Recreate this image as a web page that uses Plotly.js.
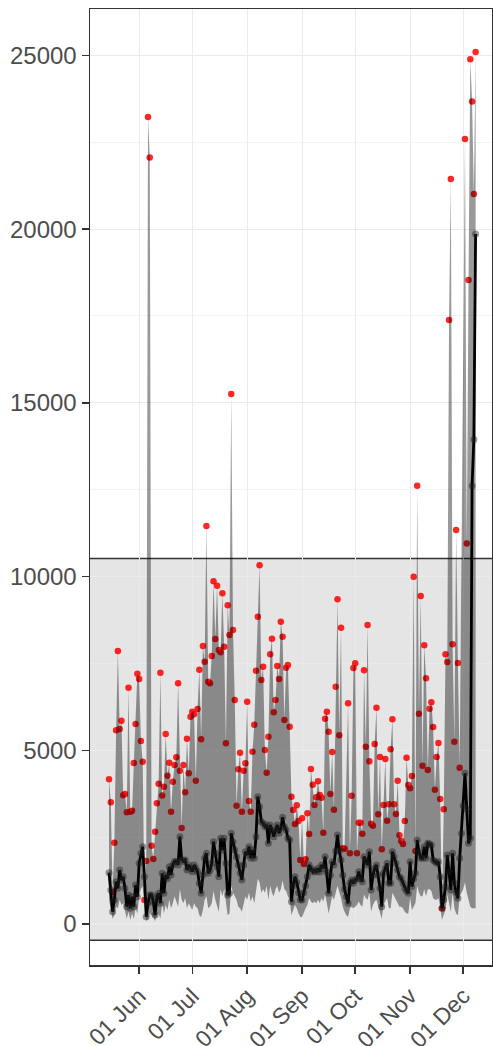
<!DOCTYPE html>
<html>
<head>
<meta charset="utf-8">
<script src="https://cdn.plot.ly/plotly-3.0.1.min.js"></script>
<style>html,body{margin:0;padding:0;background:#fff;}#chart{width:493px;height:1046px;}</style>
</head>
<body>
<div id="chart"></div>
<script>
// ---------- DATA ----------
var startDate = '2020-05-15';   // first day of the daily series
var bandRange = [-470, 10520];  // shaded reference band

// observed values (red points), one per day
var observed = [
 4165, 3503, 930, 2341, 5575, 7858, 5612, 5851, 3704, 3742, 3215, 6802, 3230, 3261, 4634, 5756, 7204,
 7052, 5267, 4672, 690, 1813, 23227, 22061, 2254, 1871, 2657, 3474, 4038, 7233, 3700, 3950, 5469,
 4268, 4643, 3232, 4096, 4576, 4797, 6927, 4413, 2763, 4576, 3790, 5334, 4337, 5967, 6111, 6035,
 4125, 6188, 7320, 5316, 8001, 7550, 11455, 6975, 6927, 7714, 9864, 8203, 9737, 7886, 7820, 9518,
 7981, 5200, 9173, 8318, 15254, 8462, 6447, 3405, 4453, 4931, 3232, 4413, 4624, 6399, 3540, 3232,
 4960, 5737, 7291, 8843, 10325, 7023, 7406, 5008, 4355, 5392, 7762, 8212, 6092, 6447, 7426, 7052,
 8700, 8269, 5872, 7377, 7454, 5679,
 3664, 3281, 2878, 3416, 2965, 1842, 3042, 1727, 1862, 3186, 2590, 4461, 4010, 3425, 3646, 4107,
 3713, 3635, 2628, 5910, 6111, 5535, 3742, 4950, 3290, 6831, 9345, 5431, 8528, 2179, 2167, null,
 6352, 2035, 3693, 7368, 7504, 2035, 2916,
 2916, 2599, 7302, 5104, 8606, 4682, 2887, 2830, 5181, 6226, 3157, 4806, 2150, 3425, 4749, 2974,
 3445, 5028, 5891, 3445, 3166, 4125, 2553, 2389, 2303, 2965, 4786, 4001, 3905, 4260, 9997, 2101,
 12615, 6053, 9440, 4557, 8021, 7072, 4432, 6197, 6381, 5670, 3866, 4806, 5209, 3598, 452, 3301,
 7762, 7541, 17384, 21443, 8050, 5247, 11340, 7512, 4499, null, null, 22593, 10949, 18535, 24888,
 23676, 21011, 25098
];

// central estimate (black line)
var estimate = [
 1477, 979, 354, 690, 1218, 1027, 1554, 1266, 1362, 1027, 498, 835, 452, 786, 498, 1122, 786,
 1747, 2035, 2225, 1362, 210, 596, 835, 835, 642, 259, 786, 884, 596, 1459, 884, 1410,
 1300, 1650, 1410, 1700, 1800, 1800, 1700, 2514, 1850, 1800, 1840, 1554, 1700, 1600, 1506, 1698,
 1602, 1506, 1170, 883, 1400, 1900, 2034, 1458, 1550, 1746, 2370, 2034, 1650, 1362, 2466, 2130,
 2466, 1746, 835, 884, 2610, 2370, 2130, 1938, 1698, 1458, 1266, 1698, 2082, 1986, 2226, 1890,
 2130, 1890, 2514, 3665, 3377, 2945, 2897, 2801, 2849, 2322, 2849, 2705, 2514, 2705, 2849, 2610,
 2753, 3070, 2801, 2705, 2466, 2418,
 643, 1100, 1362, 1200, 900, 700, 690, 900, 1100, 1362, 1698, 1600, 1500, 1550, 1506, 1602,
 1500, 1700, 1600, 1938, 1500, 883, 1400, 1794, 1700, 2100, 2561, 2100, 1842, 1400, 1000, 787,
 595, 1170, 1266, 1170, 1266, 1300, 1506,
 1300, 1218, 1938, 1800, 1698, 2082, 979, 1400, 1602, 1698, 1400, 1027, 499, 1458, 1600, 1746,
 1170, 1170, 2082, 1938, 1750, 1554, 1362, 1300, 1170, 1027, 950, 883, 1794, 1075, 1300, 1458,
 2418, 2082, 1900, 1890, 2226, 1890, 2322, 2300, 2274, 1842, 1800, 1746, 1794, 1362, 451, 700,
 1075, 1986, 1500, 979, 2034, 1170, 900, 739, 1890, 2610, 3400, 4337, 3300, 2322, 2466,
 12615, 13942, 19860
];

// lower edge of the grey band
var lower = [
 700, 400, 150, 250, 500, 450, 700, 550, 600, 400, 150, 350, 120, 300, 150, 450, 300,
 800, 1000, 1100, 500, 80, 150, 300, 250, 200, 80, 250, 300, 150, 600, 300, 550,
 400, 700, 450, 600, 800, 650, 500, 1000, 700, 600, 750, 450, 600, 500, 400, 600,
 500, 450, 250, 200, 400, 700, 800, 450, 500, 600, 950, 700, 500, 350, 1000, 800,
 1000, 600, 250, 300, 1100, 900, 800, 700, 500, 450, 350, 600, 800, 700, 900, 650,
 800, 600, 1000, 1300, 1200, 900, 1000, 900, 1100, 700, 1100, 900, 800, 1000, 1100, 900,
 1000, 1250, 1000, 950, 800, 700,
 250, 400, 550, 450, 300, 200, 200, 300, 450, 550, 750, 650, 600, 650, 600, 700,
 600, 750, 650, 850, 600, 300, 550, 800, 700, 900, 1100, 900, 750, 500, 350, 250,
 200, 450, 500, 450, 500, 550, 650,
 550, 500, 850, 750, 700, 900, 350, 550, 650, 700, 550, 350, 150, 550, 650, 750,
 450, 450, 900, 800, 700, 600, 500, 500, 450, 350, 300, 300, 750, 400, 500, 600,
 1100, 900, 800, 800, 1000, 800, 1000, 1000, 950, 750, 700, 700, 750, 500, 120, 250,
 400, 850, 600, 350, 900, 450, 300, 250, 800, 900, 1000, 1200, 900, 700, 500,
 450, 450, 450
];

var monthTicks = ['2020-06-01','2020-07-01','2020-08-01','2020-09-01','2020-10-01','2020-11-01','2020-12-01'];
var monthLabels = ['01 Jun','01 Jul','01 Aug','01 Sep','01 Oct','01 Nov','01 Dec'];
var valueTicks = [0, 5000, 10000, 15000, 20000, 25000];
var valueLabels = ['0', '5000', '10000', '15000', '20000', '25000'];

// ---------- BUILD ----------
function dayString(offset) {
  var p = startDate.split('-');
  var d = new Date(Date.UTC(+p[0], +p[1] - 1, +p[2] + offset));
  return d.toISOString().slice(0, 10);
}
var dates = observed.map(function (_, i) { return dayString(i); });

// ribbon polygon: upper edge follows observed values, lower edge returns
var polyX = [], polyY = [];
for (var i = 0; i < dates.length; i++) {
  if (observed[i] !== null) { polyX.push(dates[i]); polyY.push(observed[i]); }
}
for (var j = dates.length - 1; j >= 0; j--) { polyX.push(dates[j]); polyY.push(lower[j]); }

var traces = [
  { type: 'scatter', mode: 'markers', x: dates, y: observed,
    marker: { color: 'rgba(255,0,0,0.85)', size: 6.5, line: { width: 0 } },
    hoverinfo: 'skip', showlegend: false },
  { type: 'scatter', mode: 'lines', x: polyX, y: polyY, fill: 'toself',
    fillcolor: 'rgba(0,0,0,0.40)', line: { width: 0, color: 'rgba(0,0,0,0)' },
    hoverinfo: 'skip', showlegend: false },
  { type: 'scatter', mode: 'lines+markers', x: dates, y: estimate,
    line: { color: '#000000', width: 2.8 },
    marker: { color: 'rgba(30,30,30,0.45)', size: 7, line: { width: 0 } },
    hoverinfo: 'skip', showlegend: false }
];

var xFont = { family: 'Liberation Sans, Arial, sans-serif', size: 23, color: '#4d4d4d' };
var yFont = { family: 'Liberation Sans, Arial, sans-serif', size: 24, color: '#4d4d4d' };

var layout = {
  width: 493, height: 1046,
  margin: { l: 90, r: 1, t: 9, b: 81 },
  paper_bgcolor: '#ffffff', plot_bgcolor: '#ffffff',
  showlegend: false,
  xaxis: {
    type: 'date', range: ['2020-05-04 06:00', '2020-12-17 06:00'],
    tickmode: 'array', tickvals: monthTicks, ticktext: monthLabels,
    tickangle: -45, tickfont: xFont,
    ticks: 'outside', ticklen: 7, tickwidth: 1.5, tickcolor: '#333333',
    showgrid: true, gridcolor: '#ebebeb', gridwidth: 1.1,
    zeroline: false, showline: true, mirror: true, linecolor: '#333333', linewidth: 1.5
  },
  yaxis: {
    range: [-1180, 26335],
    tickmode: 'array', tickvals: valueTicks, ticktext: valueLabels,
    tickfont: yFont,
    ticks: 'outside', ticklen: 7, tickwidth: 1.5, tickcolor: '#333333',
    showgrid: true, gridcolor: '#ebebeb', gridwidth: 1.1,
    minor: { tickmode: 'linear', tick0: 2500, dtick: 5000, showgrid: true, gridcolor: '#ededed', gridwidth: 0.6, ticks: '' },
    zeroline: false, showline: true, mirror: true, linecolor: '#333333', linewidth: 1.5
  },
  shapes: [
    { type: 'rect', layer: 'below', xref: 'paper', x0: 0, x1: 1, yref: 'y',
      y0: bandRange[0], y1: bandRange[1], fillcolor: '#e5e5e5', line: { width: 0 } },
    { type: 'line', layer: 'between', xref: 'paper', x0: 0, x1: 1, yref: 'y',
      y0: bandRange[0], y1: bandRange[0], line: { color: '#333333', width: 1.5 } },
    { type: 'line', layer: 'between', xref: 'paper', x0: 0, x1: 1, yref: 'y',
      y0: bandRange[1], y1: bandRange[1], line: { color: '#333333', width: 1.5 } }
  ]
};

Plotly.newPlot('chart', traces, layout, { staticPlot: true, displayModeBar: false });
</script>
</body>
</html>
